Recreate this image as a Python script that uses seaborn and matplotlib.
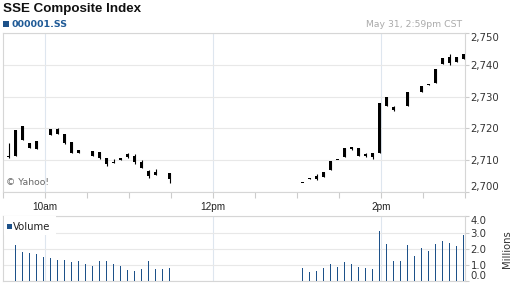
import matplotlib
matplotlib.use("Agg")
import numpy as np
import pandas as pd
import seaborn as sns
import matplotlib.pyplot as plt
from matplotlib.patches import Rectangle
from matplotlib.ticker import FuncFormatter

# ---------------- data ----------------
am_times = ["09:34", "09:39", "09:44", "09:49", "09:54", "09:59", "10:04", "10:09",
            "10:14", "10:19", "10:24", "10:29", "10:34", "10:39", "10:44", "10:49",
            "10:54", "10:59", "11:04", "11:09", "11:14", "11:19", "11:24", "11:29"]
pm_times = ["13:04", "13:09", "13:14", "13:19", "13:24", "13:29", "13:34", "13:39",
            "13:44", "13:49", "13:54", "13:59", "14:04", "14:09", "14:14", "14:19",
            "14:24", "14:29", "14:34", "14:39", "14:44", "14:49", "14:54", "14:59"]
nan = np.nan
open_ = [2710.9, 2711.4, 2720.8, 2715.5, 2713.5, nan, 2718.0, 2719.8,
         2718.2, 2715.8, 2713.2, nan, 2712.9, 2712.5, 2710.6, 2709.1,
         2710.1, 2710.9, 2711.3, 2709.5, 2706.6, 2705.4, nan, 2706.1,
         2702.7, 2704.0, 2704.0, 2704.8, 2706.9, 2710.1, 2711.1, 2713.6,
         2713.8, 2712.0, 2712.2, 2712.2, 2727.2, 2726.6, nan, 2727.1,
         nan, 2731.6, 2733.6, 2734.4, 2740.3, 2740.5, 2741.0, 2741.7]
high = [2715.5, 2719.5, 2720.8, 2715.5, 2716.1, nan, 2719.8, 2720.1,
        2718.2, 2715.8, 2713.2, nan, 2712.9, 2712.7, 2710.6, 2710.4,
        2710.6, 2712.4, 2711.9, 2710.1, 2706.9, 2707.1, nan, 2706.1,
        2702.7, 2704.3, 2705.7, 2706.2, 2709.8, 2710.1, 2713.8, 2714.3,
        2713.8, 2712.4, 2712.2, 2728.1, 2729.8, 2727.1, nan, 2731.5,
        nan, 2733.4, 2734.1, 2738.7, 2742.1, 2743.5, 2742.4, 2743.5]
low = [2710.6, 2711.4, 2716.2, 2713.8, 2713.5, nan, 2718.0, 2718.3,
       2715.0, 2712.2, 2712.4, nan, 2711.3, 2710.4, 2708.2, 2709.1,
       2710.1, 2710.6, 2708.8, 2707.7, 2704.5, 2705.4, nan, 2702.7,
       2702.7, 2704.0, 2703.8, 2704.8, 2706.9, 2710.1, 2711.1, 2713.2,
       2711.4, 2710.9, 2710.3, 2712.2, 2726.9, 2725.5, nan, 2727.1,
       nan, 2731.6, 2733.6, 2734.4, 2740.3, 2739.9, 2741.0, 2741.7]
close = [2710.9, 2719.5, 2716.2, 2713.8, 2716.1, nan, 2719.8, 2718.3,
         2715.5, 2712.2, 2712.4, nan, 2711.3, 2710.8, 2708.8, 2709.1,
         2710.6, 2712.0, 2709.5, 2707.7, 2705.0, 2706.2, nan, 2704.0,
         2702.7, 2704.3, 2705.1, 2706.2, 2709.8, 2710.1, 2713.8, 2714.1,
         2711.4, 2711.3, 2711.1, 2728.1, 2729.8, 2725.8, nan, 2731.5,
         nan, 2733.4, 2734.1, 2738.7, 2742.1, 2742.5, 2742.4, 2743.5]

vol_times = am_times[1:] + pm_times
volume_m = [2.23, 1.82, 1.75, 1.67, 1.50, 1.42, 1.32, 1.32, 1.20, 1.26, 1.07, 0.95,
            1.26, 1.26, 1.07, 0.95, 0.68, 0.64, 0.74, 1.26, 0.74, 0.74, 0.80,
            0.82, 0.58, 0.64, 0.82, 1.07, 0.87, 1.20, 1.07, 0.87, 0.80, 0.74, 3.11,
            2.31, 1.26, 1.26, 2.25, 1.57, 2.04, 1.86, 2.31, 2.50, 2.37, 2.19, 2.87]

price_ticks = [2700, 2710, 2720, 2730, 2740, 2750]
vol_ticks = [0.0, 1.0, 2.0, 3.0, 4.0]
hour_labels = ["10am", "12pm", "2pm"]
hour_times = ["10:00", "12:00", "14:00"]


def minutes(t):
    h, m = t.split(":")
    return (int(h) - 9) * 60 + int(m) - 30


candles = pd.DataFrame({
    "t": [minutes(t) for t in am_times + pm_times],
    "open": open_, "high": high, "low": low, "close": close,
}).dropna()
vol = pd.DataFrame({"t": [minutes(t) for t in vol_times], "volume": volume_m})

# ---------------- style ----------------
sns.set_theme(style="white")
plt.rcParams["font.family"] = ["DejaVu Sans"]

W, H = 512, 288
fig = plt.figure(figsize=(W / 100, H / 100), dpi=100)


def fx(x):
    return x / W


def fy(y):
    return 1 - y / H


ax = fig.add_axes([fx(3), fy(192), fx(462), 159 / H])
axv = fig.add_axes([fx(3), fy(281), fx(462), 65.5 / H])

spine_c = "#d6d6d6"
grid_h = "#e8e8e8"
grid_v = "#dee6ef"
blue = "#1d5189"

for a in (ax, axv):
    for s in a.spines.values():
        s.set_color(spine_c)
        s.set_linewidth(0.8)
    a.set_xlim(0, 330)

# ---------------- candles ----------------
px_per_unit = 159 / 50.0
body_bottom = np.minimum(candles["open"], candles["close"])
body_h = np.maximum((candles["close"] - candles["open"]).abs(), 1.0 / px_per_unit)
ax.vlines(candles["t"], candles["low"], candles["high"], color="black", lw=0.8, zorder=3)
ax.bar(candles["t"], body_h, bottom=body_bottom, width=2.4, color="black",
       linewidth=0, zorder=4)
ax.set_ylim(2700, 2750)

ax.set_yticks(price_ticks)
ax.yaxis.set_major_formatter(FuncFormatter(lambda v, p: f"{v:,.0f}"))
ax.yaxis.tick_right()
ax.tick_params(axis="y", which="both", direction="out", length=3, width=0.8,
               color="#cccccc", labelsize=7.3, labelcolor="#333333", pad=1,
               left=False, right=True)
ax.set_xticks([minutes(t) for t in hour_times], hour_labels)
ax.set_xticks(list(range(0, 331, 30)), minor=True)
ax.tick_params(axis="x", which="both", direction="out", length=4, width=0.8,
               color="#cccccc", bottom=True)
ax.tick_params(axis="x", which="major", labelsize=7.2, labelcolor="#222222", pad=3)
for lab in ax.get_xticklabels():
    lab.set_family("Liberation Sans")
ax.grid(False)
ax.yaxis.grid(True, color=grid_h, lw=0.8)
ax.xaxis.grid(True, which="major", color=grid_v, lw=0.8)
ax.set_axisbelow(True)
ticks = ax.yaxis.get_major_ticks()
ticks[0].label2.set_va("bottom")
ticks[-1].label2.set_va("top")

ax.text(fx(6), fy(185), "\u00a9 Yahoo!", transform=fig.transFigure, fontsize=6.7,
        color="#666666", va="baseline", ha="left")

# ---------------- volume ----------------
sns.barplot(data=vol, x="t", y="volume", native_scale=True, width=0.15,
            color=blue, saturation=1, errorbar=None, linewidth=0, ax=axv, zorder=3)
axv.set_xlim(0, 330)
axv.set_ylim(0, 4.06)
axv.set_xlabel("")
axv.set_ylabel("")
axv.set_yticks(vol_ticks)
axv.yaxis.set_major_formatter(FuncFormatter(lambda v, p: f"{v:.1f}"))
axv.yaxis.tick_right()
axv.tick_params(axis="y", direction="out", length=3, width=0.8, color="#cccccc",
                labelsize=7.3, labelcolor="#333333", pad=1, left=False, right=True)
axv.set_xticks([minutes(t) for t in hour_times])
axv.tick_params(axis="x", length=0, labelbottom=False)
axv.grid(False)
axv.yaxis.grid(True, color=grid_h, lw=0.8)
axv.xaxis.grid(True, color=grid_v, lw=0.8)
axv.set_axisbelow(True)
vt = axv.yaxis.get_major_ticks()
vt[0].label2.set_va("bottom")
vt[-1].label2.set_va("top")

# legend box "Volume"
fig.add_artist(Rectangle((fx(3.5), fy(235)), fx(52), 19 / H, transform=fig.transFigure,
                         facecolor="white", edgecolor="none", zorder=5))
fig.add_artist(Rectangle((fx(6.5), fy(229)), fx(5.5), 5.5 / H, transform=fig.transFigure,
                         facecolor=blue, edgecolor="none", zorder=6))
fig.text(fx(13), fy(229.5), "Volume", fontsize=7.3, color="#222222", va="baseline",
         ha="left", zorder=7)
fig.text(fx(507), fy(249), "Millions", fontsize=7.2, color="#333333", rotation=90,
         ha="center", va="center")

# ---------------- header ----------------
fig.text(fx(3), fy(12.3), "SSE Composite Index", fontsize=9.6, fontweight="bold",
         family="Liberation Sans", color="#111111", va="baseline", ha="left")
fig.add_artist(Rectangle((fx(2.7), fy(26.7)), fx(6.2), 6.2 / H, transform=fig.transFigure,
                         facecolor=blue, edgecolor="none"))
fig.text(fx(11), fy(27.3), "000001.SS", fontsize=6.8, fontweight="bold",
         color="#1f5a96", va="baseline", ha="left")
fig.text(fx(461.7), fy(27.3), "May 31, 2:59pm CST", fontsize=6.7, color="#aaaaaa",
         va="baseline", ha="right")

fig.savefig("out.png", dpi=100)
